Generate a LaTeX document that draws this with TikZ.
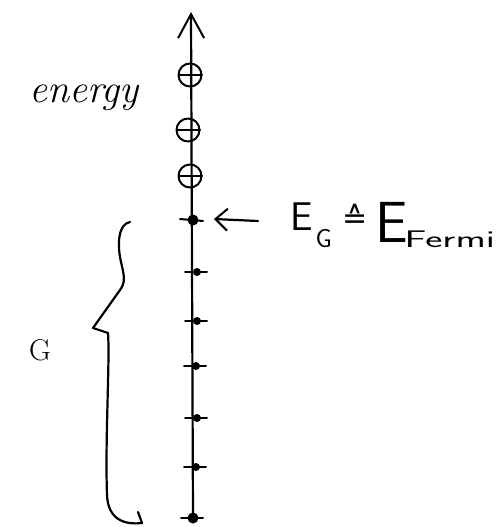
\documentclass[tikz,border=0pt]{standalone}
\usepackage{fontspec}
\newfontfamily\dvfont{DejaVu Sans}
\usetikzlibrary{arrows.meta}
\begin{document}
\begin{tikzpicture}[x=1pt,y=-1pt,
  ink/.style={line width=2.2pt,line cap=round,line join=round},
  hole/.style={ink,line width=2pt},
  tick/.style={ink,line width=2pt},
  dotfill/.style={fill=black,draw=none}]
\useasboundingbox (0,0) rectangle (498,527);
% axis
\coordinate (bot) at (193,518);
\coordinate (top) at (191,12);
\draw[ink,-{Straight Barb[length=24pt,width=26pt,line width=2pt]}] (bot) -- (top);
% empty levels (holes)
\foreach \n/\x/\y in {h1/190/75,h2/188/130,h3/190/176}{
  \node[hole,draw,circle,minimum width=23pt,minimum height=22pt,inner sep=0pt] (\n) at (\x,\y) {};
  \draw[hole] (\x-11,\y) -- (\x+12,\y);
}
% Fermi level
\node[dotfill,circle,minimum size=11pt,inner sep=0pt] (EGdot) at (193,220) {};
\draw[tick] (180,219) -- (203,221);
% filled levels
\foreach \n/\x/\y in {f1/197/272,f2/197/321,f3/196/366,f4/197/418,f5/196/467}{
  \node[dotfill,circle,minimum size=8pt,inner sep=0pt] (\n) at (\x,\y) {};
  \draw[tick] (\x-12,\y) -- (\x+10,\y);
}
\node[dotfill,circle,minimum size=11pt,inner sep=0pt] (f6) at (193,518) {};
\draw[tick] (181,518) -- (203,518);
% labels
\node[font=\fontsize{40}{42}\selectfont\itshape,anchor=base] (energy) at (84,102) {energy};
\node[font=\sffamily,anchor=base west,inner sep=0pt] (EG) at (290,230)
  {{\fontsize{40}{44}\selectfont E}\hspace{3pt}\raisebox{-17pt}{\fontsize{26}{28}\selectfont G}\hspace{11pt}\raisebox{2pt}{\dvfont\fontsize{30}{32}\selectfont ≙}\hspace{7pt}\raisebox{-12pt}{\fontsize{58}{60}\selectfont E}\hspace{-3pt}\raisebox{-17pt}{\scalebox{1.7}[1]{\fontsize{24}{26}\selectfont Fermi}}};
\coordinate (arrtail) at (258,221);
\coordinate (arrhead) at (214,219);
\draw[ink,-{Straight Barb[length=12pt,width=22pt,line width=2pt]}] (arrtail) -- (arrhead);
% brace
\draw[ink] (130,222) .. controls (118,224) and (117,245) .. (121,262)
  .. controls (124,275) and (126,282) .. (120,290) -- (93,328) -- (108,333)
  .. controls (110,360) and (105,440) .. (107,495)
  .. controls (108,520) and (125,525) .. (142,523) -- (138,512);
\node[font=\fontsize{30}{32}\selectfont] (G) at (40,350) {G};
\end{tikzpicture}
\end{document}
